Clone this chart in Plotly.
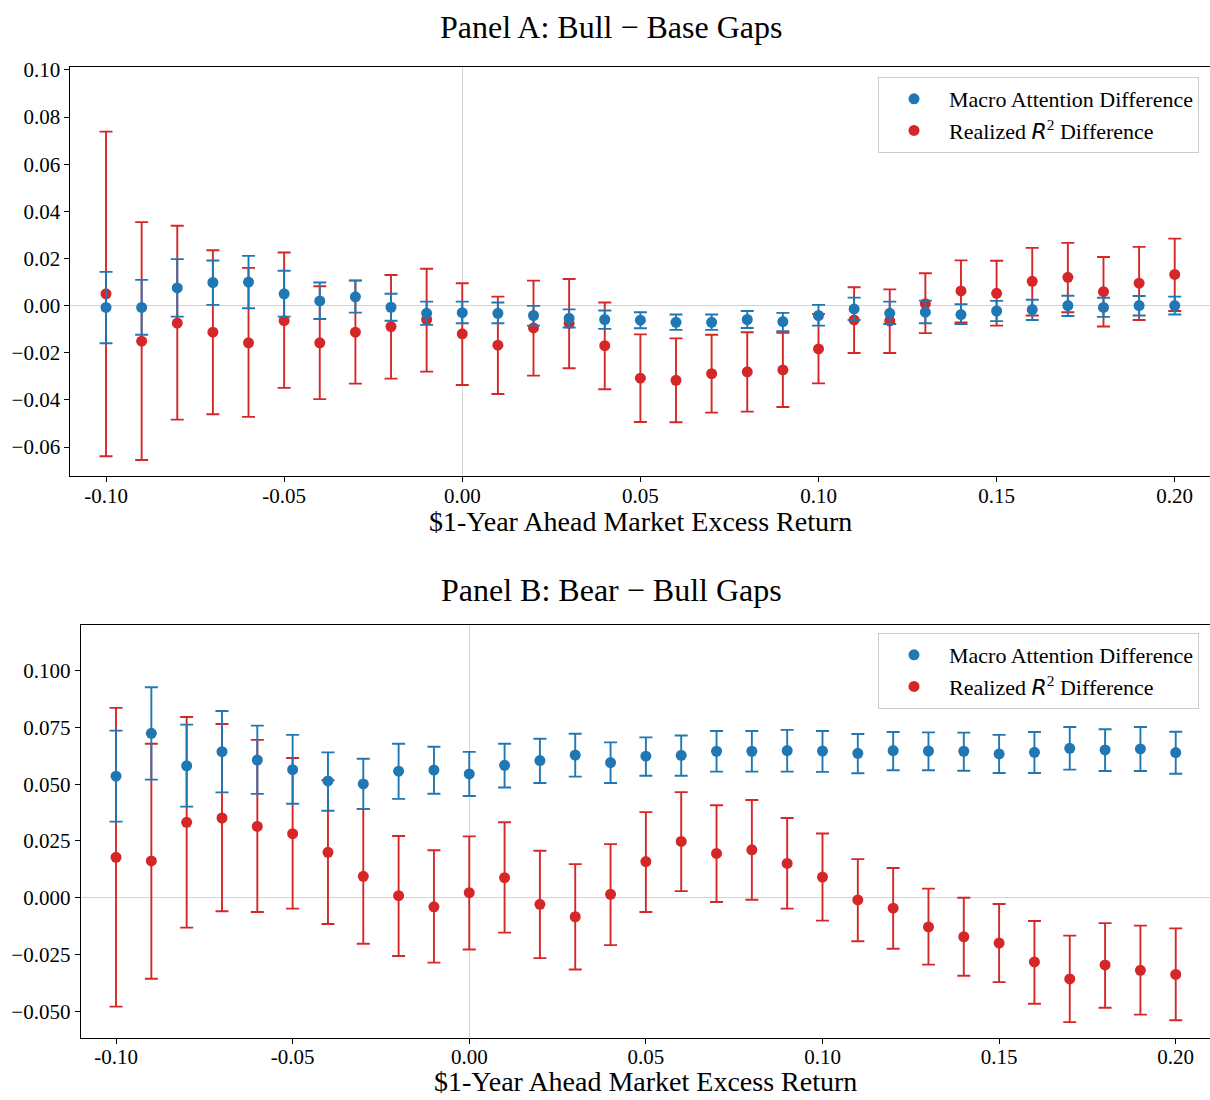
import plotly.graph_objects as go

# ---------------- data ----------------
x_vals = [-0.10, -0.09, -0.08, -0.07, -0.06, -0.05, -0.04, -0.03, -0.02, -0.01,
          0.00, 0.01, 0.02, 0.03, 0.04, 0.05, 0.06, 0.07, 0.08, 0.09,
          0.10, 0.11, 0.12, 0.13, 0.14, 0.15, 0.16, 0.17, 0.18, 0.19, 0.20]

# Panel A: Bull - Base
a_macro = [-0.0008, -0.0008, 0.0075, 0.0098, 0.0100, 0.0050, 0.0020, 0.0037, -0.0007, -0.0033,
           -0.0030, -0.0033, -0.0042, -0.0054, -0.0059, -0.0062, -0.0071, -0.0071, -0.0059, -0.0068,
           -0.0042, -0.0014, -0.0033, -0.0028, -0.0038, -0.0023, -0.0017, 0.0000, -0.0008, 0.0000, 0.0000]
a_macro_hi = [0.0143, 0.0109, 0.0197, 0.0191, 0.0211, 0.0148, 0.0098, 0.0107, 0.0050, 0.0017,
              0.0017, 0.0013, -0.0001, -0.0016, -0.0021, -0.0028, -0.0038, -0.0038, -0.0023, -0.0031,
              0.0003, 0.0034, 0.0017, 0.0021, 0.0006, 0.0020, 0.0025, 0.0042, 0.0033, 0.0041, 0.0038]
a_macro_lo = [-0.0160, -0.0124, -0.0047, 0.0003, -0.0011, -0.0047, -0.0057, -0.0030, -0.0064, -0.0082,
              -0.0075, -0.0075, -0.0085, -0.0093, -0.0099, -0.0096, -0.0103, -0.0103, -0.0095, -0.0109,
              -0.0085, -0.0061, -0.0078, -0.0075, -0.0078, -0.0066, -0.0061, -0.0044, -0.0048, -0.0042, -0.0038]
a_r2 = [0.0050, -0.0151, -0.0074, -0.0113, -0.0158, -0.0064, -0.0158, -0.0113, -0.0089, -0.0059,
        -0.0120, -0.0168, -0.0095, -0.0075, -0.0170, -0.0308, -0.0317, -0.0289, -0.0281, -0.0273,
        -0.0184, -0.0061, -0.0065, 0.0008, 0.0062, 0.0052, 0.0103, 0.0120, 0.0059, 0.0095, 0.0132]
a_r2_hi = [0.0738, 0.0354, 0.0339, 0.0235, 0.0160, 0.0225, 0.0082, 0.0106, 0.0130, 0.0156,
           0.0095, 0.0038, 0.0106, 0.0113, 0.0013, -0.0122, -0.0139, -0.0124, -0.0113, -0.0115,
           -0.0035, 0.0078, 0.0069, 0.0137, 0.0192, 0.0190, 0.0245, 0.0266, 0.0206, 0.0249, 0.0284]
a_r2_lo = [-0.0639, -0.0655, -0.0484, -0.0461, -0.0472, -0.0349, -0.0397, -0.0331, -0.0310, -0.0280,
           -0.0337, -0.0375, -0.0297, -0.0266, -0.0355, -0.0494, -0.0495, -0.0454, -0.0450, -0.0430,
           -0.0330, -0.0201, -0.0201, -0.0117, -0.0071, -0.0085, -0.0042, -0.0028, -0.0089, -0.0061, -0.0023]

# Panel B: Bear - Bull
b_macro = [0.0535, 0.0724, 0.0581, 0.0643, 0.0606, 0.0564, 0.0514, 0.0501, 0.0557, 0.0562,
           0.0545, 0.0583, 0.0604, 0.0628, 0.0595, 0.0623, 0.0627, 0.0645, 0.0645, 0.0648,
           0.0646, 0.0636, 0.0648, 0.0646, 0.0645, 0.0633, 0.0640, 0.0658, 0.0651, 0.0655, 0.0639]
b_macro_hi = [0.0736, 0.0927, 0.0762, 0.0822, 0.0758, 0.0717, 0.0640, 0.0612, 0.0678, 0.0665,
              0.0642, 0.0678, 0.0700, 0.0722, 0.0684, 0.0706, 0.0714, 0.0734, 0.0734, 0.0739,
              0.0734, 0.0721, 0.0730, 0.0728, 0.0727, 0.0717, 0.0730, 0.0752, 0.0742, 0.0752, 0.0731]
b_macro_lo = [0.0335, 0.0520, 0.0401, 0.0464, 0.0457, 0.0414, 0.0383, 0.0391, 0.0435, 0.0458,
              0.0448, 0.0485, 0.0505, 0.0533, 0.0505, 0.0537, 0.0537, 0.0555, 0.0555, 0.0555,
              0.0554, 0.0548, 0.0561, 0.0561, 0.0559, 0.0549, 0.0549, 0.0564, 0.0558, 0.0558, 0.0546]
b_r2 = [0.0178, 0.0162, 0.0332, 0.0351, 0.0314, 0.0282, 0.0200, 0.0094, 0.0009, -0.0040,
        0.0022, 0.0088, -0.0029, -0.0084, 0.0015, 0.0159, 0.0248, 0.0195, 0.0211, 0.0151,
        0.0091, -0.0010, -0.0046, -0.0129, -0.0172, -0.0200, -0.0283, -0.0358, -0.0296, -0.0320, -0.0338]
b_r2_hi = [0.0836, 0.0678, 0.0796, 0.0765, 0.0695, 0.0615, 0.0517, 0.0391, 0.0272, 0.0209,
           0.0270, 0.0332, 0.0207, 0.0148, 0.0236, 0.0377, 0.0465, 0.0407, 0.0430, 0.0351,
           0.0283, 0.0170, 0.0131, 0.0040, 0.0000, -0.0028, -0.0103, -0.0167, -0.0112, -0.0123, -0.0135]
b_r2_lo = [-0.0480, -0.0357, -0.0132, -0.0060, -0.0063, -0.0048, -0.0116, -0.0203, -0.0257, -0.0286,
           -0.0228, -0.0154, -0.0266, -0.0316, -0.0209, -0.0063, 0.0029, -0.0019, -0.0009, -0.0048,
           -0.0101, -0.0192, -0.0225, -0.0295, -0.0344, -0.0372, -0.0467, -0.0548, -0.0485, -0.0515, -0.0540]

x_tickvals = [-0.10, -0.05, 0.00, 0.05, 0.10, 0.15, 0.20]
x_ticktext = ["-0.10", "-0.05", "0.00", "0.05", "0.10", "0.15", "0.20"]
a_tickvals = [-0.06, -0.04, -0.02, 0.00, 0.02, 0.04, 0.06, 0.08, 0.10]
a_ticktext = ["\u22120.06", "\u22120.04", "\u22120.02", "0.00", "0.02", "0.04", "0.06", "0.08", "0.10"]
b_tickvals = [-0.050, -0.025, 0.000, 0.025, 0.050, 0.075, 0.100]
b_ticktext = ["\u22120.050", "\u22120.025", "0.000", "0.025", "0.050", "0.075", "0.100"]

panel_titles = ["Panel A: Bull \u2212 Base Gaps", "Panel B: Bear \u2212 Bull Gaps"]
x_label = "$1-Year Ahead Market Excess Return"
name_macro = "Macro Attention Difference"
name_r2 = "Realized <span style='font-family:DejaVu Sans'><i>R</i></span><sup>2</sup> Difference"

BLUE = "#1f77b4"
RED = "#d62728"
FONT = "Liberation Serif, Times New Roman, serif"

W, H = 1210, 1100


def err(center, hi, lo):
    return dict(type="data", symmetric=False,
                array=[h - c for h, c in zip(hi, center)],
                arrayminus=[c - l for c, l in zip(center, lo)])


fig = go.Figure()

panels = [
    ("x", "y", "legend", a_macro, a_macro_hi, a_macro_lo, a_r2, a_r2_hi, a_r2_lo),
    ("x2", "y2", "legend2", b_macro, b_macro_hi, b_macro_lo, b_r2, b_r2_hi, b_r2_lo),
]
for xa, ya, lg, m, mh, ml, r, rh, rl in panels:
    fig.add_trace(go.Scatter(
        x=x_vals, y=r, mode="markers", name=name_r2, xaxis=xa, yaxis=ya, legend=lg,
        legendrank=2,
        marker=dict(color=RED, size=11),
        error_y=dict(color=RED, thickness=1.9, width=6.5, **err(r, rh, rl)),
    ))
    fig.add_trace(go.Scatter(
        x=x_vals, y=m, mode="markers", name=name_macro, xaxis=xa, yaxis=ya, legend=lg,
        legendrank=1,
        marker=dict(color=BLUE, size=11),
        error_y=dict(color=BLUE, thickness=1.9, width=6.5, **err(m, mh, ml)),
    ))

axis_common = dict(
    showgrid=False, zeroline=True, zerolinecolor="#d4d4d4", zerolinewidth=1.2,
    showline=True, linecolor="black", linewidth=1.1, mirror=True,
    ticks="outside", ticklen=5, tickwidth=1.1, tickcolor="black",
    tickfont=dict(family=FONT, size=21, color="black"),
    automargin=False,
)

legend_common = dict(
    xanchor="right", yanchor="top",
    bgcolor="rgba(255,255,255,0.8)", bordercolor="#cccccc", borderwidth=1,
    font=dict(family=FONT, size=22, color="black"), itemwidth=60,
    tracegroupgap=0,
)

fig.update_layout(
    width=W, height=H,
    margin=dict(l=0, r=0, t=0, b=0, pad=0, autoexpand=False),
    paper_bgcolor="white", plot_bgcolor="white",
    font=dict(family=FONT, color="black"),
    xaxis=dict(domain=[70.4 / W, 1.0], range=[-0.11, 0.2099], anchor="y",
               tickmode="array", tickvals=x_tickvals, ticktext=x_ticktext,
               ticklabelstandoff=-4, **axis_common),
    yaxis=dict(domain=[1 - 476 / H, 1 - 67.3 / H], range=[-0.0723, 0.1011], anchor="x",
               tickmode="array", tickvals=a_tickvals, ticktext=a_ticktext, **axis_common),
    xaxis2=dict(domain=[80.7 / W, 1.0], range=[-0.11, 0.2097], anchor="y2",
                tickmode="array", tickvals=x_tickvals, ticktext=x_ticktext,
                ticklabelstandoff=-5, **axis_common),
    yaxis2=dict(domain=[1 - 1038 / H, 1 - 625 / H], range=[-0.0618, 0.1201], anchor="x2",
                tickmode="array", tickvals=b_tickvals, ticktext=b_ticktext, **axis_common),
    legend=dict(x=1199 / W, y=1 - 77 / H, **legend_common),
    legend2=dict(x=1199 / W, y=1 - 633 / H, **legend_common),
    showlegend=True,
)

annots = [
    (panel_titles[0], 611 / W, 1 - 27 / H, 32),
    (panel_titles[1], 611 / W, 1 - 590 / H, 32),
    (x_label, 640 / W, 1 - 521 / H, 28),
    (x_label, 645.5 / W, 1 - 1081 / H, 28),
]
for text, ax, ay, size in annots:
    fig.add_annotation(text=text, x=ax, y=ay, xref="paper", yref="paper",
                       xanchor="center", yanchor="middle", showarrow=False,
                       font=dict(family=FONT, size=size, color="black"))

fig.write_html("out.html")
